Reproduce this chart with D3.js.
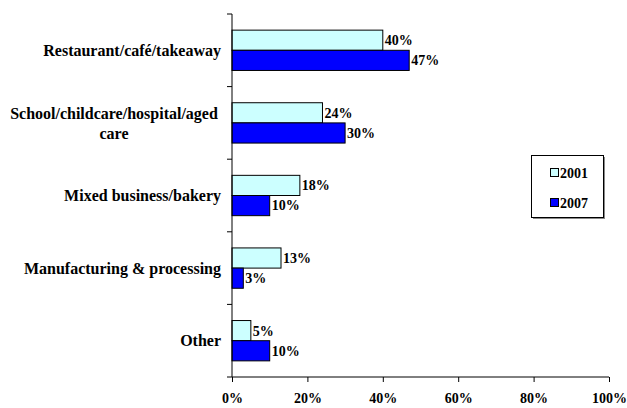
<!DOCTYPE html>
<html>
<head>
<meta charset="utf-8">
<script src="https://cdn.jsdelivr.net/npm/d3@7"></script>
<style>
  html, body { margin: 0; padding: 0; background: #fff; }
</style>
</head>
<body>
<svg id="chart" width="627" height="408"></svg>
<script>
// Workplace categories (top to bottom)
const categories = [
  ["Restaurant/café/takeaway"],
  ["School/childcare/hospital/aged", "care"],
  ["Mixed business/bakery"],
  ["Manufacturing & processing"],
  ["Other"]
];
const categoryKeys = ["Restaurant", "School", "Mixed", "Manufacturing", "Other"];
const seriesNames = ["2001", "2007"];
const values2001 = [40, 24, 18, 13, 5];
const values2007 = [47, 30, 10, 3, 10];
const xTicks = [0, 20, 40, 60, 80, 100];

const colors = { "2001": "#CCFFFF", "2007": "#0000FF" };
const FONT = "'Liberation Serif', 'Times New Roman', Times, serif";

const svg = d3.select("#chart");
const margin = { left: 232, right: 18, top: 14, bottom: 31 };
const W = 627, H = 408;

const x = d3.scaleLinear().domain([0, 100]).range([margin.left, W - margin.right]);
const y = d3.scaleBand().domain(categoryKeys).range([margin.top, H - margin.bottom]);
const inner = d3.scaleBand().domain(seriesNames).range([0, y.bandwidth()]).paddingOuter(0.8).paddingInner(0);

const series = [
  { name: "2001", values: values2001 },
  { name: "2007", values: values2007 }
];

// Bars with value labels
series.forEach(s => {
  const g = svg.append("g");
  g.selectAll("rect").data(s.values).join("rect")
    .attr("x", x(0))
    .attr("y", (d, i) => y(categoryKeys[i]) + inner(s.name))
    .attr("width", d => x(d) - x(0))
    .attr("height", inner.bandwidth())
    .attr("fill", colors[s.name])
    .attr("stroke", "#000")
    .attr("stroke-width", 1);
  g.selectAll("text").data(s.values).join("text")
    .attr("x", d => x(d) + 2)
    .attr("y", (d, i) => y(categoryKeys[i]) + inner(s.name) + inner.bandwidth() / 2)
    .attr("dy", "0.35em")
    .attr("font-family", FONT)
    .attr("font-weight", "bold")
    .attr("font-size", 14)
    .text(d => d + "%");
});

// X axis
const xAxis = d3.axisBottom(x).tickValues(xTicks).tickSize(5).tickFormat(d => d + "%");
const xg = svg.append("g").attr("transform", `translate(0,${H - margin.bottom})`).call(xAxis)
  .attr("font-family", FONT).attr("font-size", 14).attr("font-weight", "bold");
xg.select(".domain").attr("stroke", "#000").attr("d", `M${x(0)},0H${x(100)}`);
xg.selectAll(".tick line").attr("stroke", "#000");
xg.selectAll(".tick text").attr("y", 16).attr("fill", "#000");

// Y axis line with ticks at category boundaries
const yg = svg.append("g");
yg.append("line")
  .attr("x1", x(0)).attr("x2", x(0))
  .attr("y1", margin.top).attr("y2", H - margin.bottom)
  .attr("stroke", "#000");
const boundaries = categoryKeys.map(k => y(k)).concat([H - margin.bottom]);
yg.selectAll("line.tick").data(boundaries).join("line")
  .attr("class", "tick")
  .attr("x1", x(0) - 5).attr("x2", x(0))
  .attr("y1", d => d).attr("y2", d => d)
  .attr("stroke", "#000");

// Category labels
categories.forEach((lines, i) => {
  const cy = y(categoryKeys[i]) + y.bandwidth() / 2;
  const lh = 20;
  const t = svg.append("text")
    .attr("font-family", FONT)
    .attr("font-weight", "bold")
    .attr("font-size", 16)
    .attr("text-anchor", lines.length > 1 ? "middle" : "end");
  const tx = lines.length > 1 ? 114 : 221;
  lines.forEach((ln, j) => {
    t.append("tspan")
      .attr("x", tx)
      .attr("y", cy + (j - (lines.length - 1) / 2) * lh)
      .attr("dy", "0.35em")
      .text(ln);
  });
});

// Legend
const lg = svg.append("g");
lg.append("rect").attr("x", 533).attr("y", 157).attr("width", 72).attr("height", 62).attr("fill", "#888");
lg.append("rect").attr("x", 531.5).attr("y", 155.5).attr("width", 72).attr("height", 62)
  .attr("fill", "#fff").attr("stroke", "#000");
seriesNames.forEach((n, i) => {
  const cy = 173 + i * 30;
  lg.append("rect").attr("x", 550.5).attr("y", cy - 4.5).attr("width", 8).attr("height", 8)
    .attr("fill", colors[n]).attr("stroke", "#000");
  lg.append("text").attr("x", 560).attr("y", cy).attr("dy", "0.35em")
    .attr("font-family", FONT).attr("font-weight", "bold").attr("font-size", 14).text(n);
});
</script>
</body>
</html>
